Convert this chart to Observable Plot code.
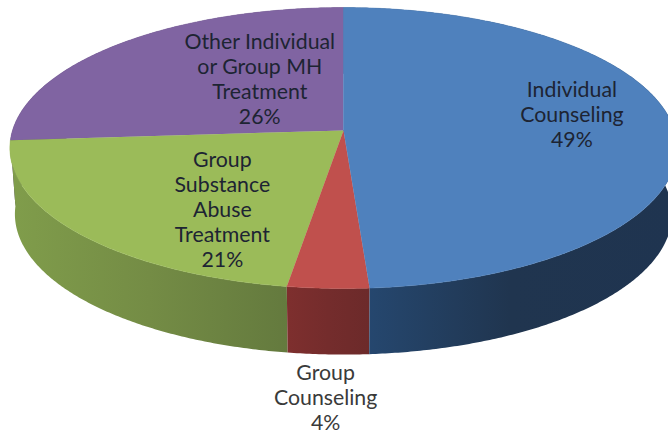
<!DOCTYPE html>
<html>
<head>
<meta charset="utf-8">
<script src="https://cdn.jsdelivr.net/npm/d3@7"></script>
<script src="https://cdn.jsdelivr.net/npm/@observablehq/plot@0.6"></script>
<style>
html,body{margin:0;padding:0;background:#fff;overflow:hidden}
svg{display:block}
</style>
</head>
<body>
<div id="chart"></div>
<script>
const categories = ["Individual Counseling", "Group Counseling", "Group Substance Abuse Treatment", "Other Individual or Group MH Treatment"];
const shares = [48.9, 3.5, 21.5, 26.1];
const percentLabels = ["49%", "4%", "21%", "26%"];
const labelLines = ["Individual\nCounseling", "Group\nCounseling", "Group\nSubstance\nAbuse\nTreatment", "Other Individual\nor Group MH\nTreatment"];
const topColors = ["#4f81bd", "#c0504d", "#9bbb59", "#8064a2"];
const wallIds = ["wall-blue", "wall-red", "wall-green", "wall-purple"];
const wallStops = [
  ["#264a74", "#20354f", "#1f3450"],
  ["#7e2f2e", "#742c2c", "#6c2a2a"],
  ["#809d4b", "#748c45", "#647a3e"],
  ["#4d3c62", "#4d3c62", "#4d3c62"]
];

// Label anchors in disc units (same units as the pie's x and y scales)
const labelAnchor = [[0.69, -0.12], [-0.054, 1.925], [-0.366, 0.565], [-0.253, -0.375]];

// Perspective pie: a unit disc seen with foreshortening k
const k = -0.1246;
const depth = 0.478, baseShrink = 0.985;
const project = (deg, scale = 1, drop = 0) => {
  const a = deg * Math.PI / 180, u = Math.sin(a), v = -Math.cos(a), w = 1 + k * v;
  return {x: scale * u / w, y: v / w + drop};
};
const arc = (from, to, scale, drop) => {
  const n = Math.max(2, Math.ceil((to - from) * 2));
  return d3.range(n + 1).map(i => project(from + (to - from) * i / n, scale, drop));
};
const ends = d3.cumsum(shares).map(c => c * 3.6);
const starts = [0, ...ends.slice(0, -1)];

const walls = shares.map((_, i) => Plot.line(
  [...arc(starts[i], ends[i], 1, 0), ...arc(starts[i], ends[i], baseShrink, depth).reverse()],
  {x: "x", y: "y", fill: `url(#${wallIds[i]})`, stroke: "none", curve: "linear"}
));
const faces = shares.map((_, i) => Plot.line(
  [{x: 0, y: 0}, ...arc(starts[i], ends[i], 1, 0)],
  {x: "x", y: "y", fill: topColors[i], stroke: topColors[i], strokeWidth: 0.5, curve: "linear"}
));
const order = [3, 2, 1, 0];
const labels = categories.map((c, i) => ({
  category: c,
  text: labelLines[i] + "\n" + percentLabels[i],
  x: labelAnchor[i][0],
  y: labelAnchor[i][1],
  color: i === 1 ? "#3a3a3a" : "#1d2433"
}));

const plot = Plot.plot({
  width: 668, height: 437,
  margin: 0,
  style: {background: "#fff"},
  x: {domain: [-1, 1], range: [12, 674], axis: null},
  y: {domain: [-1, 1], range: [-8.3, 268.3], axis: null},
  marks: [
    ...order.map(i => walls[i]),
    ...order.map(i => faces[i]),
    Plot.text(labels, {
      x: "x", y: "y", text: "text", fill: "color",
      fontFamily: "Lato", fontSize: 21.3, lineHeight: 1.175,
      textAnchor: "middle", frameAnchor: "middle"
    })
  ]
});
const defs = d3.create("svg:defs");
wallIds.forEach((id, i) => {
  const g = defs.append("svg:linearGradient").attr("id", id).attr("x1", 0).attr("x2", 1).attr("y1", 0).attr("y2", 0);
  wallStops[i].forEach((c, j) => g.append("svg:stop").attr("offset", j / (wallStops[i].length - 1)).attr("stop-color", c));
});
plot.insertBefore(defs.node(), plot.firstChild);
document.getElementById("chart").append(plot);
</script>
</body>
</html>
